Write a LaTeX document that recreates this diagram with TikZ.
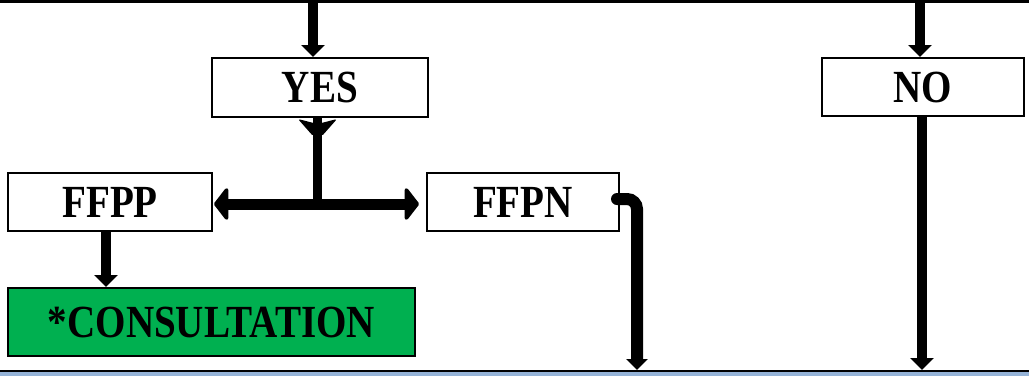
\documentclass[tikz,border=0pt]{standalone}
\usepackage{fontspec}
\newfontfamily\boxfont[FakeStretch=0.85]{Liberation Serif}
\usetikzlibrary{arrows.meta}
\definecolor{consgreen}{HTML}{00B050}
\definecolor{barblue}{RGB}{149,179,215}
\tikzset{
  box/.style={draw=black, line width=2pt, fill=white, inner sep=0pt,
    font=\boxfont\bfseries\fontsize{46}{46}\selectfont},
  arr/.style={line width=10pt, -{Triangle[width=23pt,length=12pt]}},
  harr/.style={line width=11pt, {Triangle[round,width=38pt,length=15pt]}-{Triangle[round,width=38pt,length=15pt]}},
  elbow/.style={line width=12pt, line cap=round, rounded corners=10pt, -{Triangle[width=21pt,length=11pt]}}
}
\begin{document}
\begin{tikzpicture}[x=1pt,y=-1pt]
\useasboundingbox (0,0) rectangle (1029,376);
% frame lines
\fill[black] (0,0) rectangle (1029,2.5);
\fill[barblue] (0,372) rectangle (1029,376);
\fill[black] (0,369.5) rectangle (1029,372);
% boxes
\node[box, minimum width=216pt, minimum height=59pt] (yes) at (320,87.5) {YES};
\node[box, minimum width=202pt, minimum height=58pt] (no) at (923,87) {NO};
\node[box, minimum width=204pt, minimum height=58pt] (ffpp) at (110,202) {FFPP};
\node[box, minimum width=192pt, minimum height=58pt] (ffpn) at (523,202) {FFPN};
\node[box, fill=consgreen, minimum width=407pt, minimum height=68pt] (cons) at (211.5,322) {*CONSULTATION};
% coordinates
\coordinate (t1) at (313,2);
\coordinate (t2) at (920,2);
\coordinate (jn) at (317.5,204);
\coordinate (e1) at (637,370);
\coordinate (e2) at (922,370);
% connectors
\draw[arr] (t1) -- (t1 |- yes.north);
\draw[arr] (t2) -- (t2 |- no.north);
\draw[line width=9pt] (jn |- yes.south) -- (jn);
\fill[rounded corners=2pt] ([yshift=-1pt]jn |- yes.south) coordinate (ys)
  ++(-19.5,0) -- ++(19.5,5) -- ++(19.5,-5) -- ++(-15,17) -- ++(-9,0) -- cycle;
\draw[harr] ([xshift=1pt,yshift=-2pt]ffpp.east) -- ([xshift=-7pt,yshift=-2pt]ffpn.west);
\draw[arr] ([xshift=-4pt]ffpp.south) -- ([xshift=-4pt]ffpp.south |- cons.north);
\draw[elbow] ([xshift=-3pt,yshift=3pt]ffpn.east) -| (e1);
\draw[arr] (e2 |- no.south) -- (e2);
\end{tikzpicture}
\end{document}
